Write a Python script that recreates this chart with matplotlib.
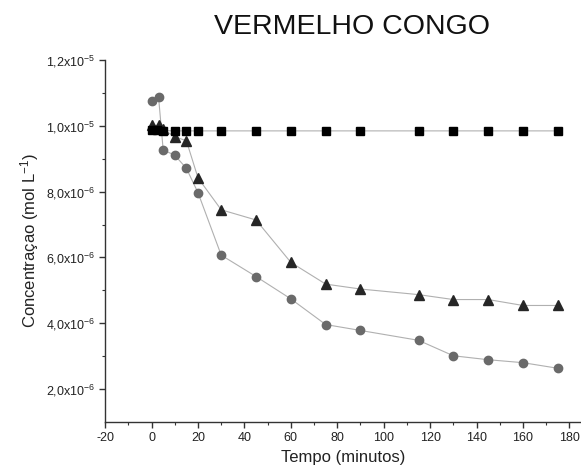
import matplotlib
matplotlib.use("Agg")
import matplotlib.pyplot as plt
from matplotlib.ticker import MultipleLocator, FixedLocator

plt.rcParams['font.family'] = ['Liberation Sans', 'DejaVu Sans']
plt.rcParams['mathtext.fontset'] = 'custom'
plt.rcParams['mathtext.rm'] = 'Liberation Sans'
plt.rcParams['mathtext.it'] = 'Liberation Sans'

title = "VERMELHO CONGO"
xlabel = "Tempo (minutos)"
ylabel = r"Concentraçao (mol L$^{-1}$)"

sq_x = [0, 2.5, 5, 10, 15, 20, 30, 45, 60, 75, 90, 115, 130, 145, 160, 175]
sq_y = [9.88e-6, 9.87e-6, 9.86e-6, 9.85e-6, 9.85e-6, 9.85e-6, 9.85e-6, 9.85e-6,
        9.85e-6, 9.85e-6, 9.85e-6, 9.85e-6, 9.85e-6, 9.85e-6, 9.85e-6, 9.85e-6]

ci_x = [0, 3, 5, 10, 15, 20, 30, 45, 60, 75, 90, 115, 130, 145, 160, 175]
ci_y = [1.075e-5, 1.088e-5, 9.27e-6, 9.11e-6, 8.71e-6, 7.97e-6, 6.07e-6, 5.42e-6,
        4.74e-6, 3.96e-6, 3.78e-6, 3.48e-6, 3.01e-6, 2.89e-6, 2.80e-6, 2.63e-6]

tr_x = [0, 3, 5, 10, 15, 20, 30, 45, 60, 75, 90, 115, 130, 145, 160, 175]
tr_y = [1.002e-5, 1.002e-5, 9.9e-6, 9.67e-6, 9.55e-6, 8.42e-6, 7.45e-6, 7.14e-6,
        5.85e-6, 5.19e-6, 5.04e-6, 4.87e-6, 4.72e-6, 4.72e-6, 4.54e-6, 4.54e-6]

yticks = [2e-6, 4e-6, 6e-6, 8e-6, 1.0e-5, 1.2e-5]
yticklabels = [r"2,0x10$^{-6}$", r"4,0x10$^{-6}$", r"6,0x10$^{-6}$",
               r"8,0x10$^{-6}$", r"1,0x10$^{-5}$", r"1,2x10$^{-5}$"]
xticks = [-20, 0, 20, 40, 60, 80, 100, 120, 140, 160, 180]

fig = plt.figure(figsize=(5.81, 4.74), dpi=100)
ax = fig.add_axes([0.181, 0.110, 0.819, 0.763])

line_kw = dict(color='#b0b0b0', lw=0.8)
ax.plot(ci_x, ci_y, marker='o', ms=6, mfc='#6a6a6a', mec='#6a6a6a', **line_kw, zorder=2)
ax.plot(tr_x, tr_y, marker='^', ms=7, mfc='#262626', mec='#262626', **line_kw, zorder=3)
ax.plot(sq_x, sq_y, marker='s', ms=5.5, mfc='#000000', mec='#000000', **line_kw, zorder=4)

ax.set_xlim(-20, 185)
ax.set_ylim(1e-6, 1.2e-5)
ax.set_xticks(xticks)
ax.set_xticklabels([str(v) for v in xticks])
ax.xaxis.set_minor_locator(MultipleLocator(10))
ax.set_yticks(yticks)
ax.set_yticklabels(yticklabels)
ax.yaxis.set_minor_locator(FixedLocator([3e-6, 5e-6, 7e-6, 9e-6, 1.1e-5]))

for s in ['top', 'right']:
    ax.spines[s].set_visible(False)
for s in ['left', 'bottom']:
    ax.spines[s].set_color('#333333')
    ax.spines[s].set_linewidth(1.0)

ax.tick_params(which='major', direction='out', length=4, width=1, colors='#333333',
               labelcolor='#222222')
ax.tick_params(axis='x', which='major', labelsize=9)
ax.tick_params(axis='y', which='major', labelsize=9, pad=3)
ax.tick_params(which='minor', direction='out', length=2.5, width=0.8, colors='#333333')

ax.set_xlabel(xlabel, fontsize=12, color='#222222', labelpad=4)
ax.set_ylabel(ylabel, fontsize=12, color='#222222', labelpad=4)
fig.text(0.606, 0.942, title, fontsize=20.5, ha='center', va='center', color='#111111')

fig.savefig("out.png", dpi=100)
